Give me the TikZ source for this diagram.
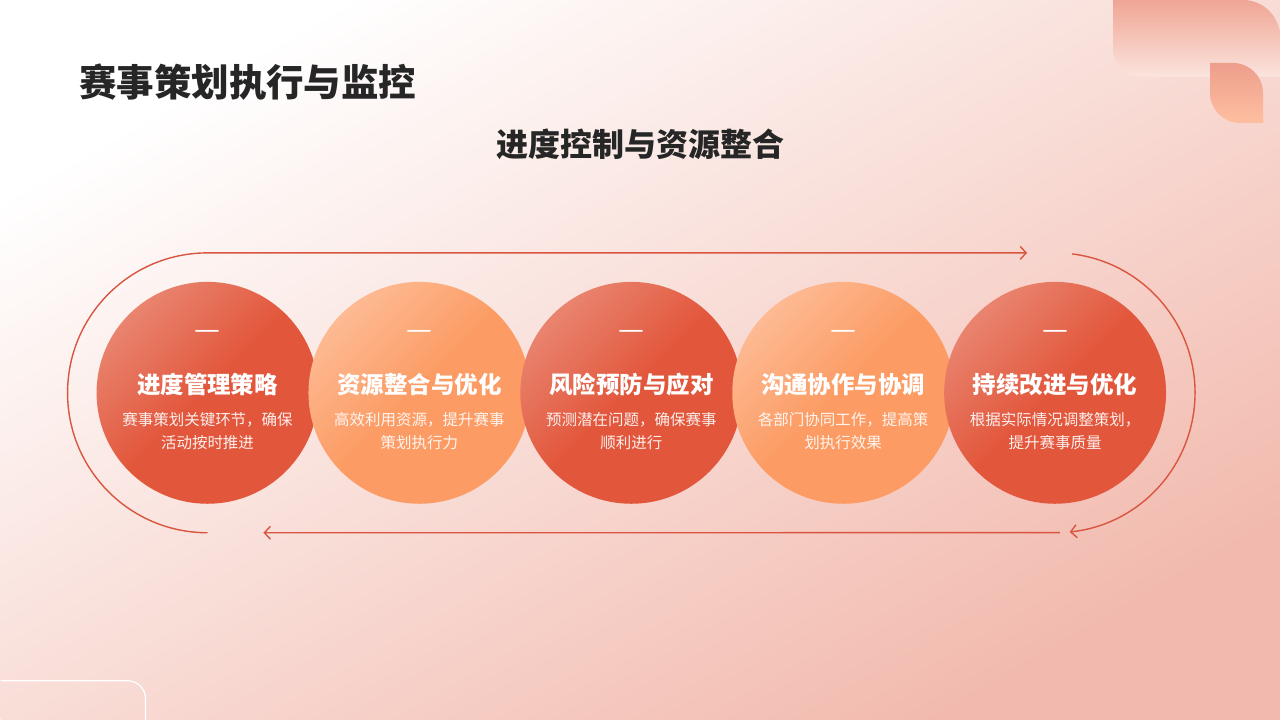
\documentclass[tikz,border=0pt]{standalone}
\usepackage{fontspec}
\setmainfont{Noto Sans CJK SC}
\usepackage{tikz}
\usetikzlibrary{
  positioning,
  arrows.meta
}
\definecolor{hotA}{HTML}{E9846F}
\definecolor{hotB}{HTML}{E2563B}
\definecolor{warmA}{HTML}{FDBA93}
\definecolor{warmB}{HTML}{FC9B63}
\definecolor{ringred}{HTML}{D9553F}
\definecolor{bgmid}{HTML}{FAE4DE}
\definecolor{bgend}{HTML}{F2BAAE}
\definecolor{titlegray}{HTML}{262626}
\definecolor{leafA}{HTML}{EFA594}
\definecolor{leafB}{HTML}{FBE4DE}
\definecolor{leafC}{HTML}{EE9E8C}
\definecolor{leafD}{HTML}{FDBFA0}
\tikzset{
  x=1pt, y=-1pt,
  >={Straight Barb[length=6pt,width=13pt]},
  node distance=212pt,
  stage/.style={circle, minimum size=222pt, inner sep=0pt},
  hot/.style={stage, top color=hotA, bottom color=hotB, middle color=hotB, shading angle=45},
  warm/.style={stage, top color=warmA, bottom color=warmB, middle color=warmB, shading angle=45},
  stagemark/.style={text=white, font=\fontsize{29}{31}\selectfont},
  stagetitle/.style={text=white, font=\bfseries\fontsize{23.5}{28}\selectfont},
  stagetext/.style={text=white, text opacity=0.9, align=center, font=\fontsize{15.5}{23}\selectfont},
  ringline/.style={draw=ringred, line width=1.4pt}
}

\begin{document}
\begin{tikzpicture}
    \shade[top color=white, middle color=bgmid, bottom color=bgend, shading angle=30] (0,0) rectangle (1280,720);
    \shade[top color=leafA, bottom color=leafB] (1113,0) -- (1243,0) arc[start angle=90, end angle=0, radius=37pt] -- (1280,77) -- (1141,77) arc[start angle=270, end angle=180, radius=28pt] -- cycle;
    \shade[top color=leafC, bottom color=leafD] (1210,63) -- (1233,63) arc[start angle=90, end angle=0, radius=30pt] -- (1263,123) -- (1240,123) arc[start angle=270, end angle=180, radius=30pt] -- cycle;
    \draw[white, line width=1.2pt, rounded corners=18pt] (0,681) -- (145,681) -- (145,722);

    \node[anchor=west, text=titlegray, font=\bfseries\fontsize{37.5}{42}\selectfont] (title) at (75,82) {赛事策划执行与监控};
    \node[text=titlegray, font=\bfseries\fontsize{32}{36}\selectfont] (subtitle) at (640,144) {进度控制与资源整合};

    \node[hot] (s1) at (207,393) {};
    \node[warm, right of=s1] (s2) {};
    \node[hot, right of=s2] (s3) {};
    \node[warm, right of=s3] (s4) {};
    \node[hot, right of=s4] (s5) {};

    \node[stagemark] (m1) at ([yshift=58pt]s1.center) {—};
    \node[stagemark] (m2) at ([yshift=58pt]s2.center) {—};
    \node[stagemark] (m3) at ([yshift=58pt]s3.center) {—};
    \node[stagemark] (m4) at ([yshift=58pt]s4.center) {—};
    \node[stagemark] (m5) at ([yshift=58pt]s5.center) {—};

    \node[stagetitle] (t1) at ([yshift=8pt]s1.center) {进度管理策略};
    \node[stagetitle] (t2) at ([yshift=8pt]s2.center) {资源整合与优化};
    \node[stagetitle] (t3) at ([yshift=8pt]s3.center) {风险预防与应对};
    \node[stagetitle] (t4) at ([yshift=8pt]s4.center) {沟通协作与协调};
    \node[stagetitle] (t5) at ([yshift=8pt]s5.center) {持续改进与优化};

    \node[stagetext] (d1) at ([yshift=-38pt]s1.center) {赛事策划关键环节，确保\\活动按时推进};
    \node[stagetext] (d2) at ([yshift=-38pt]s2.center) {高效利用资源，提升赛事\\策划执行力};
    \node[stagetext] (d3) at ([yshift=-38pt]s3.center) {预测潜在问题，确保赛事\\顺利进行};
    \node[stagetext] (d4) at ([yshift=-38pt]s4.center) {各部门协同工作，提高策\\划执行效果};
    \node[stagetext] (d5) at ([yshift=-38pt]s5.center) {根据实际情况调整策划，\\提升赛事质量};

    \coordinate (topend) at (1027,253);
    \coordinate (botend) at (263,533);
    \draw[ringline, ->] ([yshift=-140pt]s1.center) arc[start angle=270, end angle=90, radius=140pt] -- (topend);
    \draw[ringline, ->] ([shift={(83:140pt)}]s5.center) arc[start angle=83, end angle=-84, radius=140pt];
    \draw[ringline, ->] ([shift={(-88:140pt)}]s5.center) -- (botend);
\end{tikzpicture}
\end{document}
